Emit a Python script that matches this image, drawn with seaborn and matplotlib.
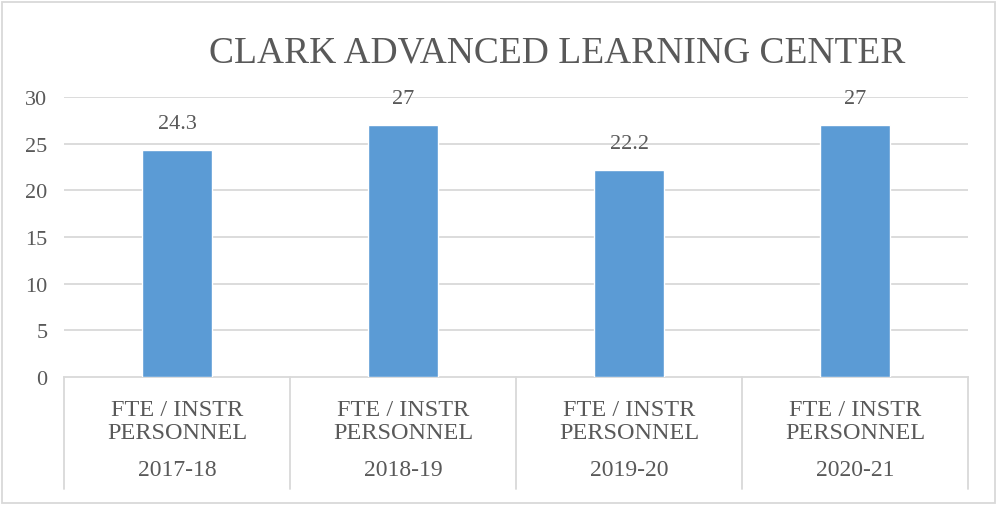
import pandas as pd
import numpy as np
import matplotlib
matplotlib.use('Agg')
import matplotlib.pyplot as plt
import seaborn as sns
from matplotlib.patches import Rectangle

# chart data
years = ['2017-18', '2018-19', '2019-20', '2020-21']
measure_lines = ['FTE / INSTR', 'PERSONNEL']
values = [24.3, 27, 22.2, 27]
value_labels = ['24.3', '27', '22.2', '27']
y_ticks = [0, 5, 10, 15, 20, 25, 30]

sns.set_style('white')
plt.rcParams['font.family'] = ['Liberation Serif', 'DejaVu Serif']

text_color = '#595959'
grid_color = '#D9D9D9'
bar_color = '#5B9BD5'

df = pd.DataFrame({'year': years, 'value': values})

fig = plt.figure(figsize=(9.97, 5.06), dpi=100)
W, H = 997, 506
ax = fig.add_axes([64 / W, 1 - 378 / H, (968 - 64) / W, (378 - 98) / H])

sns.barplot(data=df, x='year', y='value', color=bar_color, width=0.31,
            saturation=1, ax=ax, zorder=3)

ax.set_xlim(-0.5, len(years) - 0.5)
ax.set_ylim(0, 30)
ax.set_yticks(y_ticks)
ax.set_yticklabels([str(t) for t in y_ticks], fontsize=16, color=text_color)
ax.tick_params(axis='y', length=0, pad=12)
ax.set_xticks([])
ax.set_xlabel('')
ax.set_ylabel('')

for t in y_ticks[1:]:
    ax.axhline(t, color=grid_color, lw=1.3, zorder=1)

for s in ['top', 'right', 'left']:
    ax.spines[s].set_visible(False)
ax.spines['bottom'].set_color(grid_color)
ax.spines['bottom'].set_linewidth(1.3)

# data labels
for i, (v, lab) in enumerate(zip(values, value_labels)):
    ax.annotate(lab, (i, v), xytext=(0, 17), textcoords='offset pixels',
                ha='center', va='bottom', fontsize=16, color=text_color)

# multi-level category axis
tr = ax.get_xaxis_transform()
for b in np.arange(-0.5, len(years), 1.0):
    ax.plot([b, b], [0, -0.40], transform=tr, color=grid_color, lw=1.3,
            clip_on=False, zorder=1)
for i, yr in enumerate(years):
    ax.text(i, -0.115, measure_lines[0], transform=tr, ha='center',
            va='center', fontsize=17.5, color=text_color)
    ax.text(i, -0.197, measure_lines[1], transform=tr, ha='center',
            va='center', fontsize=17.5, color=text_color)
    ax.text(i, -0.33, yr, transform=tr, ha='center', va='center',
            fontsize=17, color=text_color)

fig.text(557 / W, 1 - 53 / H, 'CLARK ADVANCED LEARNING CENTER', ha='center',
         va='center', fontsize=27, color=text_color)

fig.patches.append(Rectangle((2 / W, 2 / H), 993 / W, 501 / H,
                             transform=fig.transFigure, fill=False,
                             edgecolor=grid_color, lw=1.3))

fig.savefig('out.png', dpi=100)
